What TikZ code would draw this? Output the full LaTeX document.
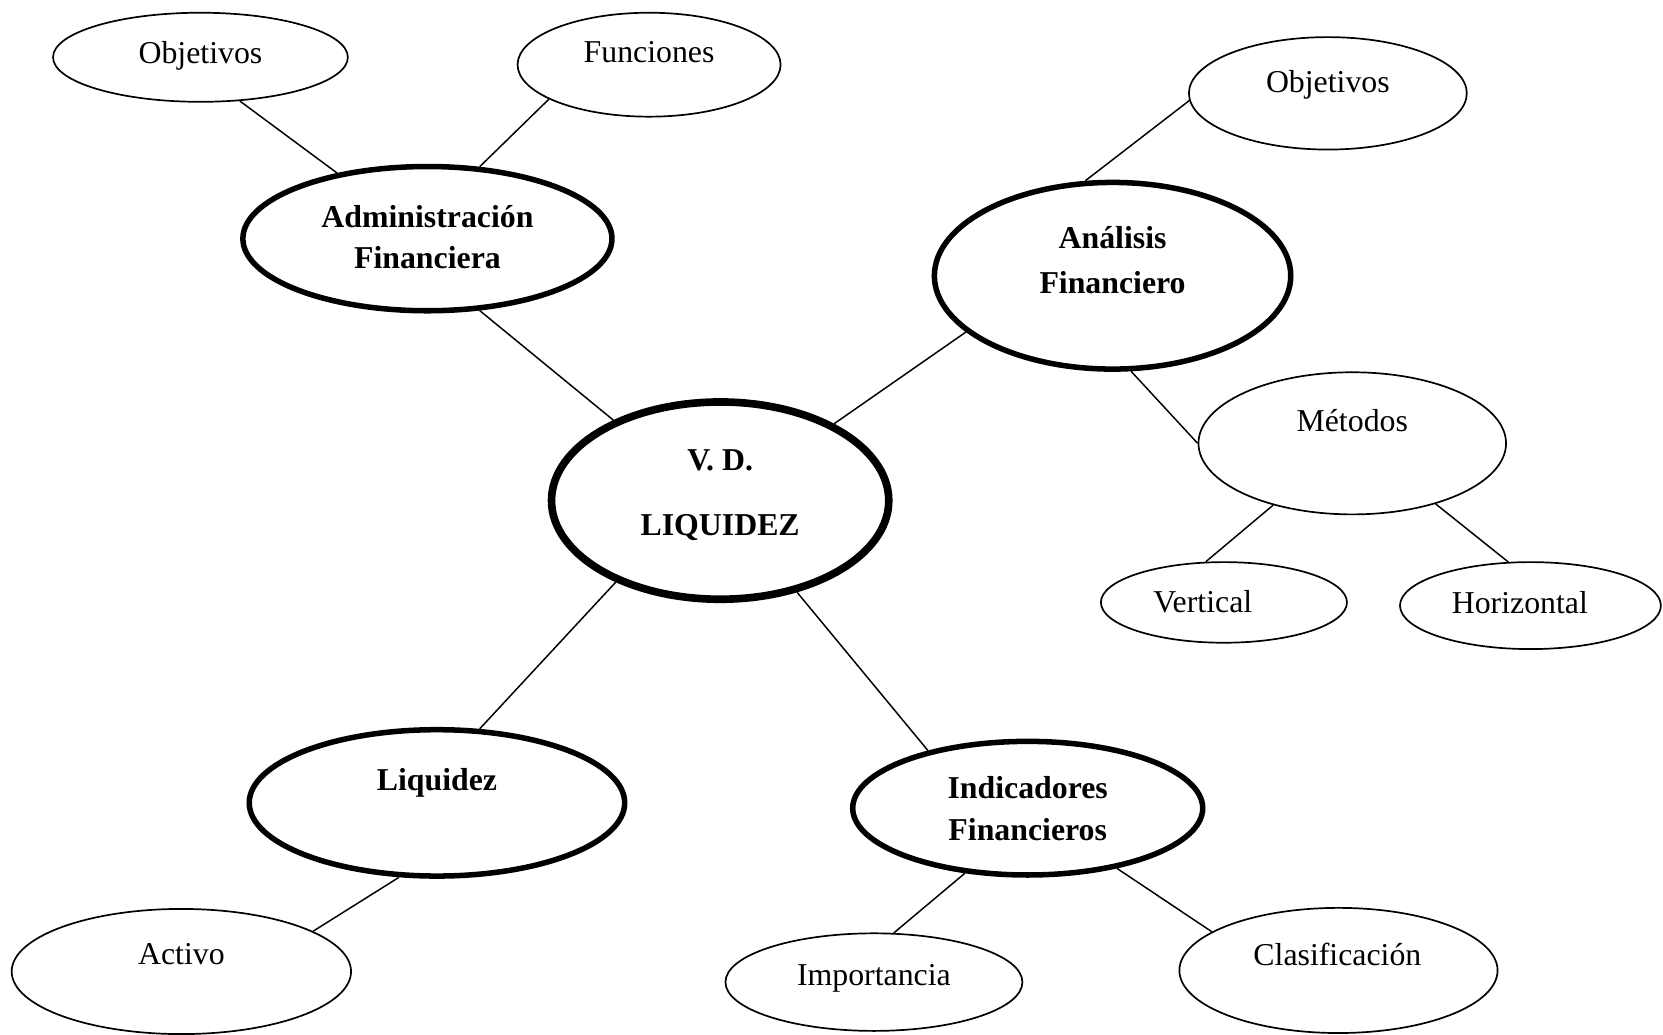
\documentclass[tikz,border=0pt]{standalone}
\usepackage{fontspec}
\setmainfont{Liberation Serif}
\usetikzlibrary{shapes.geometric}
\begin{document}
\begin{tikzpicture}[x=0.5pt,y=-0.5pt,
  oval/.style={shape=ellipse,draw,inner sep=0pt,line width=0.8pt},
  thickoval/.style={oval,line width=2.6pt},
  vdoval/.style={oval,line width=3.6pt},
  lbl/.style={font=\fontsize{15}{18}\selectfont,inner sep=0pt},
  blbl/.style={font=\fontsize{15}{18}\selectfont\bfseries,inner sep=0pt},
  conn/.style={line width=0.7pt}]
\useasboundingbox (0,0) rectangle (1568,975);
% ellipses
\node[oval,minimum width=139pt,minimum height=42pt] (o1) at (189,54) {};
\node[oval,minimum width=124pt,minimum height=49pt] (fu) at (612,61) {};
\node[thickoval,minimum width=174pt,minimum height=68pt] (adm) at (403,225) {};
\node[oval,minimum width=131pt,minimum height=53pt] (o2) at (1252,88) {};
\node[thickoval,minimum width=168pt,minimum height=88pt] (ana) at (1049,260) {};
\node[oval,minimum width=145pt,minimum height=67pt] (met) at (1275,418) {};
\node[oval,minimum width=116pt,minimum height=38pt] (ver) at (1154,568) {};
\node[oval,minimum width=123pt,minimum height=41pt] (hor) at (1443,571) {};
\node[vdoval,minimum width=159pt,minimum height=93pt] (vd) at (679,472) {};
\node[thickoval,minimum width=177pt,minimum height=69pt] (liq) at (412,757) {};
\node[thickoval,minimum width=165pt,minimum height=63pt] (ind) at (969,762) {};
\node[oval,minimum width=160pt,minimum height=59pt] (act) at (171,916) {};
\node[oval,minimum width=140pt,minimum height=46pt] (imp) at (824,926) {};
\node[oval,minimum width=150pt,minimum height=59pt] (cla) at (1262,915) {};
% texts
\node[lbl] (to1) at (189,53) {Objetivos};
\node[lbl] (tfu) at (612,49) {Funciones};
\node[blbl] (tadm1) at (403,204) {Administración};
\node[blbl] (tadm2) at (403,243) {Financiera};
\node[lbl] (to2) at (1252,80) {Objetivos};
\node[blbl] (tana1) at (1049,224) {Análisis};
\node[blbl] (tana2) at (1049,266) {Financiero};
\node[lbl] (tmet) at (1275,397) {Métodos};
\node[lbl] (tver) at (1134,567) {Vertical};
\node[lbl] (thor) at (1433,568) {Horizontal};
\node[blbl] (tvd1) at (679,434) {V. D.};
\node[blbl] (tvd2) at (679,497) {LIQUIDEZ};
\node[blbl] (tliq) at (412,738) {Liquidez};
\node[blbl] (tind1) at (969,743) {Indicadores};
\node[blbl] (tind2) at (969,782) {Financieros};
\node[lbl] (tact) at (171,900) {Activo};
\node[lbl] (timp) at (824,922) {Importancia};
\node[lbl] (tcla) at (1261,900) {Clasificación};
% connectors
\draw[conn] (o1.-48.4) -- (adm.144);
\draw[conn] (fu.199.7) -- (adm.54.2);
\draw[conn] (adm.-54.2) -- (vd.143.3);
\draw[conn] (o2.183) -- (ana.106.7);
\draw[conn] (ana.201.5) -- (vd.34.1);
\draw[conn] (ana.-79.3) -- (met.180.8);
\draw[conn] (met.218.9) -- (ver.114.8);
\draw[conn] (met.-36.2) -- (hor.117.6);
\draw[conn] (vd.218.3) -- (liq.60.6);
\draw[conn] (vd.-50.3) -- (ind.150);
\draw[conn] (liq.243.4) -- (act.17.9);
\draw[conn] (ind.226.3) -- (imp.68.6);
\draw[conn] (ind.-34.2) -- (cla.163.8);
\end{tikzpicture}
\end{document}
